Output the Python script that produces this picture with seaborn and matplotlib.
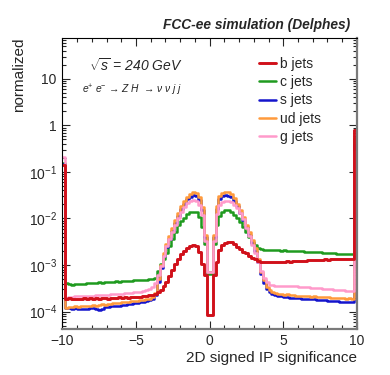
import numpy as np
import pandas as pd
import matplotlib
matplotlib.use('Agg')
import matplotlib.pyplot as plt
import seaborn as sns
from matplotlib.ticker import FixedLocator, FixedFormatter, LogLocator, MultipleLocator, NullFormatter

sns.set_style('ticks')
plt.rcParams['font.family'] = ['Liberation Sans', 'DejaVu Sans']
plt.rcParams['mathtext.fontset'] = 'custom'
plt.rcParams['mathtext.rm'] = 'Liberation Sans'
plt.rcParams['mathtext.it'] = 'Liberation Sans:italic'
plt.rcParams['mathtext.bf'] = 'Liberation Sans:bold'

# histogram binning: 100 bins between -10 and 10
n_bins = 100
x_range = (-10, 10)

# log10 of the normalized bin contents (10 bins per row)
b_jets_log10 = [
    -0.85, -3.72, -3.71, -3.74, -3.74, -3.73, -3.74, -3.71, -3.72, -3.71,
    -3.72, -3.71, -3.72, -3.70, -3.71, -3.72, -3.70, -3.71, -3.70, -3.69,
    -3.70, -3.69, -3.70, -3.68, -3.69, -3.68, -3.68, -3.67, -3.66, -3.65,
    -3.64, -3.62, -3.59, -3.54, -3.46, -3.36, -3.23, -3.10, -2.98, -2.87,
    -2.77, -2.70, -2.64, -2.60, -2.58, -2.60, -2.72, -2.97, -3.22, -4.08,
    -4.08, -3.22, -2.94, -2.68, -2.57, -2.52, -2.50, -2.51, -2.55, -2.61,
    -2.66, -2.71, -2.75, -2.80, -2.84, -2.88, -2.91, -2.93, -2.94, -2.94,
    -2.94, -2.94, -2.93, -2.94, -2.93, -2.93, -2.92, -2.93, -2.92, -2.92,
    -2.91, -2.92, -2.91, -2.90, -2.90, -2.90, -2.89, -2.90, -2.89, -2.88,
    -2.89, -2.88, -2.88, -2.87, -2.88, -2.87, -2.86, -2.87, -2.86, -0.09,
]
c_jets_log10 = [
    -0.80, -3.38, -3.40, -3.42, -3.41, -3.41, -3.40, -3.40, -3.39, -3.39,
    -3.38, -3.38, -3.37, -3.38, -3.37, -3.37, -3.36, -3.36, -3.35, -3.36,
    -3.35, -3.35, -3.34, -3.34, -3.33, -3.33, -3.33, -3.32, -3.32, -3.31,
    -3.31, -3.28, -3.12, -2.97, -2.87, -2.74, -2.60, -2.43, -2.29, -2.15,
    -2.05, -1.98, -1.91, -1.87, -1.85, -1.87, -1.97, -2.18, -2.55, -3.19,
    -3.19, -2.55, -2.15, -1.95, -1.85, -1.82, -1.82, -1.86, -1.93, -2.00,
    -2.08, -2.18, -2.29, -2.40, -2.50, -2.58, -2.63, -2.66, -2.67, -2.68,
    -2.68, -2.68, -2.68, -2.68, -2.69, -2.68, -2.69, -2.69, -2.70, -2.69,
    -2.70, -2.70, -2.71, -2.71, -2.72, -2.72, -2.73, -2.73, -2.74, -2.74,
    -2.74, -2.75, -2.75, -2.76, -2.76, -2.76, -2.77, -2.77, -2.77, -0.28,
]
s_jets_log10 = [
    -0.83, -3.93, -3.92, -3.94, -3.93, -3.95, -3.94, -3.95, -3.94, -3.93,
    -3.92, -3.94, -3.96, -3.95, -3.91, -3.90, -3.89, -3.89, -3.88, -3.87,
    -3.86, -3.85, -3.84, -3.83, -3.82, -3.81, -3.80, -3.79, -3.77, -3.76,
    -3.73, -3.65, -3.36, -3.06, -2.81, -2.61, -2.43, -2.26, -2.10, -1.94,
    -1.80, -1.68, -1.59, -1.53, -1.50, -1.52, -1.60, -1.82, -2.40, -3.16,
    -3.16, -2.40, -1.80, -1.58, -1.51, -1.50, -1.51, -1.54, -1.62, -1.74,
    -1.88, -2.03, -2.19, -2.36, -2.52, -2.70, -2.94, -3.20, -3.38, -3.52,
    -3.58, -3.62, -3.64, -3.66, -3.67, -3.68, -3.68, -3.70, -3.70, -3.71,
    -3.71, -3.72, -3.72, -3.73, -3.74, -3.74, -3.75, -3.75, -3.76, -3.76,
    -3.77, -3.77, -3.78, -3.78, -3.79, -3.79, -3.80, -3.80, -3.80, -0.43,
]
ud_jets_log10 = [
    -0.85, -3.92, -3.90, -3.91, -3.89, -3.90, -3.89, -3.88, -3.88, -3.87,
    -3.86, -3.87, -3.85, -3.84, -3.85, -3.83, -3.83, -3.82, -3.81, -3.82,
    -3.80, -3.80, -3.79, -3.78, -3.77, -3.77, -3.76, -3.75, -3.74, -3.72,
    -3.68, -3.60, -3.30, -3.00, -2.75, -2.55, -2.37, -2.20, -2.04, -1.88,
    -1.74, -1.62, -1.53, -1.47, -1.43, -1.45, -1.54, -1.75, -2.35, -3.16,
    -3.16, -2.35, -1.74, -1.52, -1.45, -1.43, -1.44, -1.48, -1.56, -1.68,
    -1.82, -1.97, -2.13, -2.30, -2.46, -2.64, -2.88, -3.14, -3.33, -3.47,
    -3.54, -3.58, -3.60, -3.62, -3.63, -3.64, -3.63, -3.65, -3.65, -3.66,
    -3.66, -3.67, -3.66, -3.67, -3.68, -3.67, -3.68, -3.68, -3.69, -3.68,
    -3.69, -3.70, -3.70, -3.71, -3.70, -3.71, -3.72, -3.71, -3.72, -0.54,
]
g_jets_log10 = [
    -0.68, -3.70, -3.68, -3.68, -3.67, -3.67, -3.66, -3.67, -3.66, -3.66,
    -3.66, -3.65, -3.65, -3.64, -3.64, -3.64, -3.63, -3.63, -3.62, -3.62,
    -3.62, -3.61, -3.60, -3.60, -3.59, -3.58, -3.57, -3.56, -3.54, -3.52,
    -3.47, -3.38, -3.22, -3.02, -2.80, -2.60, -2.44, -2.28, -2.13, -1.99,
    -1.86, -1.75, -1.67, -1.62, -1.61, -1.63, -1.71, -1.92, -2.48, -3.16,
    -3.16, -2.48, -1.90, -1.70, -1.64, -1.62, -1.62, -1.65, -1.71, -1.78,
    -1.88, -2.02, -2.20, -2.38, -2.56, -2.74, -2.93, -3.12, -3.28, -3.37,
    -3.42, -3.43, -3.44, -3.44, -3.45, -3.45, -3.45, -3.46, -3.46, -3.46,
    -3.47, -3.47, -3.48, -3.48, -3.49, -3.49, -3.50, -3.50, -3.51, -3.51,
    -3.52, -3.52, -3.53, -3.53, -3.54, -3.54, -3.55, -3.55, -3.56, -0.58,
]

jet_labels = ['b jets', 'c jets', 's jets', 'ud jets', 'g jets']
jet_colors = ['#d0101a', '#1f9a1f', '#1414cc', '#ff9a3c', '#ff9acb']
draw_order = ['c jets', 's jets', 'ud jets', 'g jets', 'b jets']

y_ticks = [1e-4, 1e-3, 1e-2, 1e-1, 1, 10]
y_tick_labels = ['$10^{-4}$', '$10^{-3}$', '$10^{-2}$', '$10^{-1}$', '1', '10']
x_ticks = [-10, -5, 0, 5, 10]
x_tick_labels = ['\u221210', '\u22125', '0', '5', '10']

edges = np.linspace(x_range[0], x_range[1], n_bins + 1)
centers = 0.5 * (edges[:-1] + edges[1:])
all_logs = [b_jets_log10, c_jets_log10, s_jets_log10, ud_jets_log10, g_jets_log10]
df = pd.concat([
    pd.DataFrame({'ip': centers, 'w': 10 ** np.array(v), 'jet': name})
    for name, v in zip(jet_labels, all_logs)
])
palette = dict(zip(jet_labels, jet_colors))

fig = plt.figure(figsize=(3.9, 3.75), dpi=100)
ax = fig.add_axes([0.16, 0.123, 0.755, 0.776])

for name in draw_order:
    sub = df[df['jet'] == name]
    sns.histplot(data=sub, x='ip', weights='w', bins=list(edges), element='step', fill=False,
                 color=palette[name], linewidth=2.1 if name == 'b jets' else 1.8,
                 label=name, ax=ax)

ax.set_yscale('log')
ax.set_xlim(x_range)
ax.set_ylim(4.25e-5, 76)

ax.xaxis.set_major_locator(FixedLocator(x_ticks))
ax.xaxis.set_major_formatter(FixedFormatter(x_tick_labels))
ax.xaxis.set_minor_locator(MultipleLocator(1))
ax.yaxis.set_major_locator(FixedLocator(y_ticks))
ax.yaxis.set_major_formatter(FixedFormatter(y_tick_labels))
ax.yaxis.set_minor_locator(LogLocator(base=10, subs=np.arange(2, 10), numticks=50))
ax.yaxis.set_minor_formatter(NullFormatter())
ax.tick_params(which='both', direction='in', top=True, right=True, labelsize=10, width=0.8)
ax.tick_params(which='major', length=6, pad=4)
ax.tick_params(which='minor', length=3)

for side in ['left', 'top']:
    ax.spines[side].set_color('black')
    ax.spines[side].set_linewidth(0.8)
for side in ['right', 'bottom']:
    ax.spines[side].set_color('#7a7a7a')
    ax.spines[side].set_linewidth(1.6)

ax.set_xlabel('2D signed IP significance', fontsize=11, loc='right', labelpad=2)
ax.set_ylabel('normalized', fontsize=11, loc='top')
ax.yaxis.set_label_coords(-0.125, 1.0)

handles, labels = ax.get_legend_handles_labels()
lookup = dict(zip(labels, handles))
ax.legend([lookup[n] for n in jet_labels], jet_labels, loc='upper left',
          bbox_to_anchor=(0.645, 0.958), frameon=False, fontsize=10,
          handlelength=1.2, handletextpad=0.3, labelspacing=0.3, borderpad=0)

ax.text(0.09, 0.905, '$\\sqrt{s}$ = 240 GeV', transform=ax.transAxes, fontsize=10,
        style='italic', va='center', ha='left')
ax.text(0.065, 0.82, 'e$^{+}$ e$^{-}$ \u2192 Z H  \u2192 \u03bd \u03bd j j', transform=ax.transAxes,
        fontsize=7.4, style='italic', va='center', ha='left')
fig.text(0.897, 0.933, 'FCC-ee simulation (Delphes)', fontsize=9.9, fontweight='bold',
         style='italic', ha='right', va='center')

fig.savefig('out.png', dpi=100)
